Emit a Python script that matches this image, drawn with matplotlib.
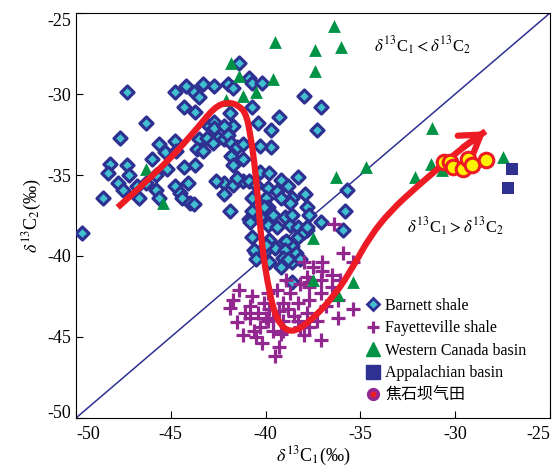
import matplotlib.pyplot as plt
from matplotlib.path import Path
from matplotlib.patches import PathPatch
from matplotlib.lines import Line2D

plt.rcParams['font.family'] = ['Liberation Serif', 'Noto Sans CJK SC']
plt.rcParams['mathtext.fontset'] = 'stix'

# Barnett shale (d13C1, d13C2)
barnett_x = [-47.3, -47.7, -46.3, -48.2, -48.3, -47.3, -47.2, -48.6, -47.8, -47.5,
             -46.7, -46.8, -46.3, -45.8, -45.8, -45.6, -46.0, -45.6, -45.3, -45.2,
             -44.8, -44.7, -44.8, -44.3, -43.7, -44.1, -44.5, -44.4, -44.0, -43.8,
             -44.8, -44.2, -43.8, -44.3, -43.7, -43.5, -43.3, -42.7, -42.0, -41.7,
             -41.4, -40.9, -40.7, -40.2, -40.7, -40.4, -39.7, -39.3, -39.7, -40.3,
             -38.0, -43.5, -43.6, -43.3, -43.1, -43.0, -42.7, -42.7, -42.5, -42.2,
             -42.8, -41.9, -41.7, -42.2, -42.0, -41.8, -41.5, -41.2, -41.2, -41.8,
             -41.7, -42.2, -41.7, -41.2, -40.9, -42.2, -41.9, -40.3, -39.8, -39.2,
             -38.3, -40.5, -39.9, -40.7, -40.0, -39.4, -38.8, -38.6, -37.9, -37.8,
             -40.9, -39.9, -40.3, -39.6, -39.0, -38.7, -39.9, -39.4, -38.3, -38.2,
             -40.7, -39.8, -39.1, -38.6, -40.5, -49.7, -37.1, -37.3, -41.5, -39.2,
             -38.7, -40.7, -40.1, -38.6, -37.1, -35.8, -35.7, -35.9, -38.9, -38.3,
             -37.8, -37.7, -40.6, -40.0, -39.5, -39.0, -38.4, -40.5, -39.8, -39.1,
             -38.6, -38.2, -40.8, -40.0, -39.2, -38.8, -38.0, -37.8, -38.6, -42.6]
barnett_y = [-29.9, -32.7, -31.8, -34.3, -34.9, -34.4, -35.0, -36.4, -35.5, -35.9,
             -36.4, -35.7, -35.5, -35.0, -35.9, -36.4, -34.0, -33.1, -33.6, -34.6,
             -32.9, -33.5, -35.7, -34.5, -34.4, -35.5, -36.1, -36.4, -36.7, -36.8,
             -29.9, -29.5, -29.9, -30.8, -31.1, -30.2, -29.4, -29.5, -29.4, -29.6,
             -28.1, -29.0, -29.3, -29.3, -30.8, -31.8, -32.2, -31.4, -33.3, -33.2,
             -30.1, -32.8, -33.4, -33.5, -32.7, -32.0, -31.7, -32.1, -32.7, -32.8,
             -33.0, -31.2, -32.0, -32.0, -32.5, -33.0, -33.3, -33.1, -34.0, -33.8,
             -34.4, -35.5, -35.6, -35.4, -35.4, -36.2, -37.2, -34.8, -34.9, -35.3,
             -35.1, -35.6, -35.8, -36.4, -36.4, -36.0, -35.7, -36.4, -36.2, -37.0,
             -37.7, -37.0, -37.6, -37.5, -37.6, -38.1, -38.1, -38.2, -38.2, -38.7,
             -38.8, -39.0, -39.2, -39.4, -39.8, -38.6, -30.8, -32.2, -35.2, -36.4,
             -36.7, -37.2, -37.0, -37.5, -37.9, -37.2, -35.9, -38.4, -39.1, -38.8,
             -38.4, -37.5, -39.6, -39.6, -39.5, -39.6, -39.8, -40.2, -40.4, -40.1,
             -40.4, -40.2, -37.9, -39.3, -40.7, -40.2, -38.5, -38.2, -41.6, -35.4]

# Fayetteville shale
fay_x = [-36.4, -35.9, -38.0, -41.4, -40.7, -41.9, -41.1, -41.5, -40.8, -41.2,
         -40.2, -40.5, -39.5, -37.1, -35.4, -36.2, -36.2, -37.0, -37.5, -36.1,
         -36.5, -38.9, -38.2, -39.4, -38.7, -40.1, -39.8, -39.1, -38.3, -37.7,
         -37.1, -36.8, -37.8, -38.3, -39.1, -39.9, -40.3, -39.6, -39.1, -38.2,
         -37.7, -37.3, -39.9, -37.8, -37.1, -39.2, -40.4, -40.8, -39.3, -38.8,
         -37.7, -37.0, -36.5, -37.7, -39.3, -35.4, -40.0, -39.6, -38.5, -38.0,
         -40.6, -41.7]
fay_y = [-38.0, -39.8, -40.4, -42.1, -42.5, -43.2, -43.5, -44.1, -43.8, -44.9,
         -45.4, -45.0, -46.2, -45.2, -43.3, -43.8, -42.7, -40.9, -40.7, -41.5,
         -41.9, -41.5, -41.7, -42.1, -42.3, -42.9, -43.3, -42.9, -42.9, -42.7,
         -42.3, -43.1, -43.5, -44.0, -44.0, -44.0, -44.4, -44.6, -44.6, -44.4,
         -44.4, -44.0, -42.3, -41.3, -41.5, -44.8, -43.5, -43.1, -43.4, -43.3,
         -41.6, -40.4, -41.2, -41.9, -45.6, -40.4, -43.8, -43.9, -43.7, -44.9,
         -44.6, -42.7]

# Western Canada basin
wcb_x = [-36.4, -37.4, -36.0, -37.4, -39.5, -39.6, -41.8, -41.4, -41.2, -40.5,
         -42.1, -46.3, -45.4, -36.3, -34.7, -37.5, -37.5, -35.4, -36.2, -31.2,
         -32.1, -31.3, -30.7, -27.5]
wcb_y = [-25.8, -27.3, -27.1, -28.6, -26.8, -29.1, -28.1, -28.9, -30.1, -29.9,
         -30.4, -34.6, -36.7, -35.1, -34.5, -38.9, -41.5, -41.6, -42.4, -32.1,
         -35.1, -34.3, -34.7, -33.9]

# Appalachian basin
app_x = [-27.0, -27.2]
app_y = [-34.6, -35.8]

# Jiaoshiba gas field
jsb_x = [-30.6, -30.3, -30.1, -29.6, -29.3, -29.1, -28.4]
jsb_y = [-34.2, -34.2, -34.5, -34.6, -34.0, -34.4, -34.1]

# trend arrow (drawn annotation)
arrow_x = [-47.8, -45.6, -43.8, -42.7, -42.0, -41.4, -41.0, -40.8, -40.6, -40.4,
           -40.2, -39.8, -39.4, -38.7, -37.7, -36.4, -35.4, -34.5, -33.4, -32.0,
           -30.8, -29.6, -28.4]
arrow_y = [-37.0, -34.7, -32.4, -30.8, -30.5, -30.7, -31.3, -32.6, -34.1, -36.5,
           -39.4, -42.3, -44.0, -44.8, -44.1, -42.5, -40.7, -38.8, -37.2, -35.7,
           -34.5, -33.3, -32.3]

ticks = [-50, -45, -40, -35, -30, -25]

blue = '#2e3192'
cyan = '#3fbfcf'
purple = '#92278f'
green = '#009245'
red = '#ed1c24'
yellow = '#fff200'

fig = plt.figure(figsize=(5.54, 4.73), dpi=100)
ax = fig.add_axes([0.1372, 0.1163, 0.8556, 0.8562])

ax.plot([-50, -25], [-50, -25], color=blue, lw=1.1, zorder=1)

ax.scatter(barnett_x, barnett_y, marker='D', s=44, facecolor=cyan, edgecolor=blue,
           linewidths=2.3, zorder=3)
ax.scatter(fay_x, fay_y, marker='+', s=110, color=purple, linewidths=2.3, zorder=4)
ax.scatter(wcb_x, wcb_y, marker='^', s=85, color=green, linewidths=0, zorder=5)
ax.scatter(app_x, app_y, marker='s', s=70, color=blue, linewidths=0, zorder=5)

# smooth trend path through the points using quadratic segments
verts = [(arrow_x[0], arrow_y[0])]
codes = [Path.MOVETO]
for i in range(1, len(arrow_x) - 1):
    verts.append((arrow_x[i], arrow_y[i]))
    verts.append(((arrow_x[i] + arrow_x[i + 1]) / 2, (arrow_y[i] + arrow_y[i + 1]) / 2))
    codes += [Path.CURVE3, Path.CURVE3]
verts.append((arrow_x[-1], arrow_y[-1]))
codes.append(Path.LINETO)
ax.add_patch(PathPatch(Path(verts, codes), facecolor='none', edgecolor=red, lw=4.5,
                       capstyle='butt', zorder=6))
ax.annotate('', xy=(arrow_x[-1], arrow_y[-1]), xytext=(arrow_x[-2], arrow_y[-2]),
            arrowprops=dict(arrowstyle='->,head_length=0.7,head_width=0.45', lw=4.5,
                            color=red, mutation_scale=20, shrinkA=0, shrinkB=0),
            zorder=7)

ax.scatter(jsb_x, jsb_y, marker='o', s=110, facecolor=yellow, edgecolor=red,
           linewidths=2.2, zorder=8)

ax.text(-31.7, -27.0, r'$\delta^{13}$C$_1$$<$$\delta^{13}$C$_2$', fontsize=12,
        ha='center', va='center')
ax.text(-30.0, -38.2, r'$\delta^{13}$C$_1$$>$$\delta^{13}$C$_2$', fontsize=12,
        ha='center', va='center')

ax.set_xlim(-50, -25)
ax.set_ylim(-50, -25)
ax.set_xticks(ticks)
ax.set_xticklabels([str(t) for t in ticks])
ax.set_yticks(ticks)
ax.set_yticklabels([str(t) for t in ticks])
ax.tick_params(direction='in', length=5, labelsize=13, top=False, right=False)
ax.tick_params(axis='x', pad=6)
xl = ax.get_xticklabels()
xl[0].set_ha('left')
xl[-1].set_ha('right')
yl = ax.get_yticklabels()
yl[0].set_va('baseline')
yl[-1].set_va('top')
ax.set_xlabel(r'$\delta^{13}$C$_1$(‰)', fontsize=13, labelpad=1)
ax.set_ylabel(r'$\delta^{13}$C$_2$(‰)', fontsize=13, labelpad=2)

handles = [
    Line2D([], [], ls='none', marker='D', ms=6, mfc=cyan, mec=blue, mew=2),
    Line2D([], [], ls='none', marker='+', ms=9, color=purple, mew=2.3),
    Line2D([], [], ls='none', marker='^', ms=10, color=green),
    Line2D([], [], ls='none', marker='s', ms=10, color=blue),
    Line2D([], [], ls='none', marker='o', ms=7, mfc=red, mec=purple, mew=2.5),
]
labels = ['Barnett shale', 'Fayetteville shale', 'Western Canada basin',
          'Appalachian basin', '焦石坝气田']
ax.legend(handles, labels, loc='lower left', bbox_to_anchor=(0.593, 0.02),
          frameon=False, fontsize=11.5, handletextpad=0.15, labelspacing=0.4,
          handlelength=1.2, borderaxespad=0)

fig.savefig('out.png', dpi=100)
